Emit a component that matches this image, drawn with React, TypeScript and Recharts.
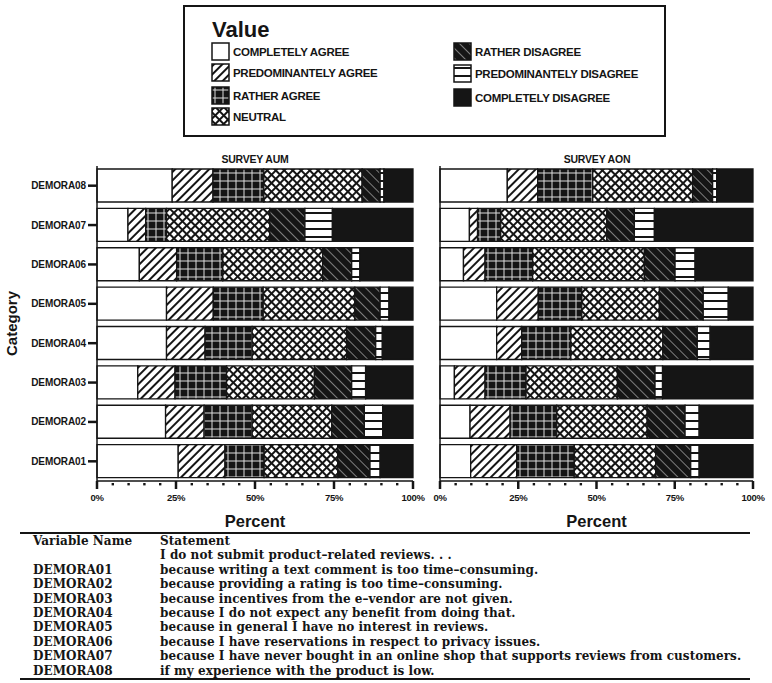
import React from 'react'
import { BarChart, Bar, XAxis, YAxis } from 'recharts'

// rows from top to bottom, as drawn
const CATEGORIES = ['DEMORA08', 'DEMORA07', 'DEMORA06', 'DEMORA05', 'DEMORA04', 'DEMORA03', 'DEMORA02', 'DEMORA01']

const LEVELS = [
  'COMPLETELY AGREE',
  'PREDOMINANTELY AGREE',
  'RATHER AGREE',
  'NEUTRAL',
  'RATHER DISAGREE',
  'PREDOMINANTELY DISAGREE',
  'COMPLETELY DISAGREE',
]
const LEVEL_KEYS = ['ca', 'pa', 'ra', 'ne', 'rd', 'pd', 'cd']

// survey AUM, share in % per row
const AUM_CA = [23.8, 9.8, 13.4, 22.0, 22.0, 12.9, 21.7, 25.7]
const AUM_PA = [12.9, 5.6, 11.8, 14.8, 12.2, 11.8, 12.2, 14.8]
const AUM_RA = [16.1, 6.6, 14.6, 15.8, 14.9, 16.3, 15.2, 12.4]
const AUM_NE = [31.1, 32.7, 31.6, 29.0, 29.9, 27.8, 25.2, 23.3]
const AUM_RD = [5.7, 11.1, 9.2, 8.0, 9.2, 11.8, 10.3, 10.2]
const AUM_PD = [1.2, 8.7, 2.6, 2.8, 2.1, 4.4, 5.8, 3.2]
const AUM_CD = [9.2, 25.5, 16.8, 7.6, 9.7, 15.0, 9.6, 10.4]

// survey AON
const AON_CA = [21.5, 9.4, 7.5, 18.1, 18.1, 4.6, 9.6, 9.8]
const AON_PA = [9.7, 2.6, 6.9, 13.3, 8.0, 9.8, 12.8, 14.7]
const AON_RA = [17.6, 7.4, 15.2, 13.9, 15.7, 13.1, 14.9, 18.4]
const AON_NE = [31.9, 33.9, 35.7, 24.8, 29.4, 29.2, 28.9, 26.0]
const AON_RD = [6.4, 8.8, 9.8, 14.0, 11.0, 12.0, 12.1, 11.2]
const AON_PD = [1.3, 6.4, 6.4, 8.0, 4.1, 2.4, 4.5, 2.7]
const AON_CD = [11.6, 31.5, 18.5, 7.9, 13.7, 28.9, 17.2, 17.2]

const PCT_TICKS = [0, 5, 10, 15, 20, 25, 30, 35, 40, 45, 50, 55, 60, 65, 70, 75, 80, 85, 90, 95, 100]
const MAJOR_TICKS = [0, 25, 50, 75, 100]

const TABLE_NAMES = ['', 'DEMORA01', 'DEMORA02', 'DEMORA03', 'DEMORA04', 'DEMORA05', 'DEMORA06', 'DEMORA07', 'DEMORA08']
const TABLE_STATEMENTS = [
  'I do not submit product\u2013related reviews. . .',
  'because writing a text comment is too time\u2013consuming.',
  'because providing a rating is too time\u2013consuming.',
  'because incentives from the e\u2013vendor are not given.',
  'because I do not expect any benefit from doing that.',
  'because in general I have no interest in reviews.',
  'because I have reservations in respect to privacy issues.',
  'because I have never bought in an online shop that supports reviews from customers.',
  'if my experience with the product is low.',
]

const INK = '#151515'
const SANS = '"Liberation Sans", Arial, sans-serif'
const SERIF = '"DejaVu Serif", serif'

const FILLS = ['#fff', 'url(#p-pa)', 'url(#p-ra)', 'url(#p-ne)', 'url(#p-rd)', 'url(#p-pd)', INK]

const buildRows = (cols: number[][]) =>
  CATEGORIES.map((name, i) => {
    const row: Record<string, any> = { name }
    LEVEL_KEYS.forEach((k, j) => (row[k] = cols[j][i]))
    return row
  })

const aumData = buildRows([AUM_CA, AUM_PA, AUM_RA, AUM_NE, AUM_RD, AUM_PD, AUM_CD])
const aonData = buildRows([AON_CA, AON_PA, AON_RA, AON_NE, AON_RD, AON_PD, AON_CD])

function Patterns() {
  return (
    <svg width={0} height={0} style={{ position: 'absolute' }}>
      <defs>
        <pattern id="p-pa" patternUnits="userSpaceOnUse" width={6} height={6} patternTransform="rotate(45)">
          <rect width={6} height={6} fill="#fff" />
          <line x1={3} y1={0} x2={3} y2={6} stroke={INK} strokeWidth={2} />
        </pattern>
        <pattern id="p-ra" patternUnits="userSpaceOnUse" width={8} height={8}>
          <rect width={8} height={8} fill={INK} />
          <line x1={4} y1={0} x2={4} y2={8} stroke="#ddd" strokeWidth={1} />
          <line x1={0} y1={4} x2={8} y2={4} stroke="#ddd" strokeWidth={1} />
        </pattern>
        <pattern id="p-ne" patternUnits="userSpaceOnUse" width={6} height={6} patternTransform="rotate(45)">
          <rect width={6} height={6} fill="#fff" />
          <line x1={3} y1={0} x2={3} y2={6} stroke={INK} strokeWidth={2} />
          <line x1={0} y1={3} x2={6} y2={3} stroke={INK} strokeWidth={2} />
        </pattern>
        <pattern id="p-rd" patternUnits="userSpaceOnUse" width={7} height={7} patternTransform="rotate(-45)">
          <rect width={7} height={7} fill={INK} />
          <line x1={3.5} y1={0} x2={3.5} y2={7} stroke="#999" strokeWidth={0.8} />
        </pattern>
        <pattern id="p-pd" patternUnits="userSpaceOnUse" width={8} height={8}>
          <rect width={8} height={8} fill="#fff" />
          <line x1={0} y1={4} x2={8} y2={4} stroke={INK} strokeWidth={2} />
        </pattern>
      </defs>
    </svg>
  )
}

const PercentTick = (props: any) => {
  const { x, y, payload } = props
  const v = payload.value
  if (!MAJOR_TICKS.includes(v)) {
    return <rect x={x - 1.2} y={y + 2} width={2.4} height={2.4} fill={INK} />
  }
  return (
    <g>
      <line x1={x} y1={y} x2={x} y2={y + 8} stroke={INK} strokeWidth={2.5} />
      <text x={x} y={y + 20} textAnchor="middle" fontSize={9.5} fontWeight="bold" fill={INK} fontFamily={SANS} letterSpacing={-0.3}>
        {`${v}%`}
      </text>
    </g>
  )
}

function SurveyChart({ data, showLabels }: { data: any[]; showLabels: boolean }) {
  const width = showLabels ? 432 : 352
  return (
    <BarChart
      width={width}
      height={386}
      data={data}
      layout="vertical"
      barCategoryGap={3}
      margin={{ top: 21, right: showLabels ? 19 : 19, bottom: 0, left: 0 }}
    >
      <XAxis
        type="number"
        domain={[0, 100]}
        ticks={PCT_TICKS}
        interval={0}
        tickSize={0}
        tickMargin={0}
        tick={<PercentTick />}
        height={50}
        axisLine={{ stroke: INK, strokeWidth: 1.5 }}
        label={{ value: 'Percent', position: 'insideBottom', offset: 4, fontSize: 16.5, fontWeight: 900, fill: INK, fontFamily: SANS }}
      />
      <XAxis
        xAxisId="top"
        orientation="top"
        type="number"
        domain={[0, 100]}
        height={0}
        tick={false}
        tickLine={false}
        axisLine={{ stroke: '#777', strokeWidth: 2 }}
      />
      <YAxis
        type="category"
        dataKey="name"
        width={showLabels ? 97 : 20}
        tickSize={showLabels ? 9 : 14}
        tickLine={{ stroke: INK, strokeWidth: 2.5 }}
        axisLine={{ stroke: INK, strokeWidth: 1.5 }}
        tick={showLabels ? { fontSize: 10, fontWeight: 'bold', fill: INK, fontFamily: SANS, letterSpacing: -0.1 } : false}
        label={
          showLabels
            ? { value: 'Category', angle: -90, position: 'insideLeft', offset: 12, fontSize: 15, fontWeight: 'bold', fill: INK, fontFamily: SANS, style: { textAnchor: 'middle' } }
            : undefined
        }
      />
      {LEVEL_KEYS.map((k, j) => (
        <Bar key={k} dataKey={k} name={LEVELS[j]} stackId="s" fill={FILLS[j]} stroke={INK} strokeWidth={1.3} isAnimationActive={false} />
      ))}
    </BarChart>
  )
}

function Swatch({ fill }: { fill: string }) {
  return (
    <svg width={19} height={19} style={{ display: 'block' }}>
      <rect x={1} y={1} width={17} height={17} fill={fill} stroke={INK} strokeWidth={1.5} />
    </svg>
  )
}

function LegendBox() {
  const item = (j: number, left: number, top: number) => (
    <div key={j} style={{ position: 'absolute', left, top, display: 'flex', alignItems: 'center', gap: 3, whiteSpace: 'nowrap' }}>
      <Swatch fill={FILLS[j]} />
      <span style={{ fontSize: 11.5, fontWeight: 'bold', letterSpacing: -0.3 }}>{LEVELS[j]}</span>
    </div>
  )
  return (
    <div
      style={{
        position: 'absolute',
        left: 183,
        top: 5,
        width: 479,
        height: 128,
        border: `2px solid ${INK}`,
        fontFamily: SANS,
        color: INK,
      }}
    >
      <div style={{ position: 'absolute', left: 27, top: 10, fontSize: 22, fontWeight: 'bold' }}>Value</div>
      {item(0, 26, 35)}
      {item(1, 26, 56)}
      {item(2, 26, 79)}
      {item(3, 26, 100)}
      {item(4, 268, 35)}
      {item(5, 268, 57)}
      {item(6, 268, 81)}
    </div>
  )
}

function StatementTable() {
  return (
    <div
      style={{
        position: 'absolute',
        left: 20,
        top: 532,
        width: 730,
        borderTop: `2px solid ${INK}`,
        borderBottom: `2px solid ${INK}`,
        fontFamily: SERIF,
        fontSize: 12,
        fontWeight: 'bold',
        letterSpacing: 0.05,
        color: INK,
        lineHeight: '14.4px',
      }}
    >
      <div style={{ display: 'flex' }}>
        <div style={{ width: 127, paddingLeft: 13 }}>Variable Name</div>
        <div>Statement</div>
      </div>
      {TABLE_STATEMENTS.map((s, i) => (
        <div key={i} style={{ display: 'flex' }}>
          <div style={{ width: 127, paddingLeft: 13 }}>{TABLE_NAMES[i]}</div>
          <div style={{ whiteSpace: 'nowrap' }}>{s}</div>
        </div>
      ))}
    </div>
  )
}

export default function App() {
  const title: React.CSSProperties = {
    position: 'absolute',
    top: 153,
    fontFamily: SANS,
    fontSize: 10.5,
    fontWeight: 'bold',
    color: INK,
    textAlign: 'center',
    width: 200,
    letterSpacing: -0.2,
  }
  return (
    <div style={{ position: 'absolute', left: 0, top: 0, width: 772, height: 683, background: '#fff' }}>
      <Patterns />
      <LegendBox />
      <div style={{ ...title, left: 155 }}>SURVEY AUM</div>
      <div style={{ ...title, left: 497 }}>SURVEY AON</div>
      <div style={{ position: 'absolute', left: 0, top: 145 }}>
        <SurveyChart data={aumData} showLabels />
      </div>
      <div style={{ position: 'absolute', left: 420, top: 145 }}>
        <SurveyChart data={aonData} showLabels={false} />
      </div>
      <StatementTable />
    </div>
  )
}
